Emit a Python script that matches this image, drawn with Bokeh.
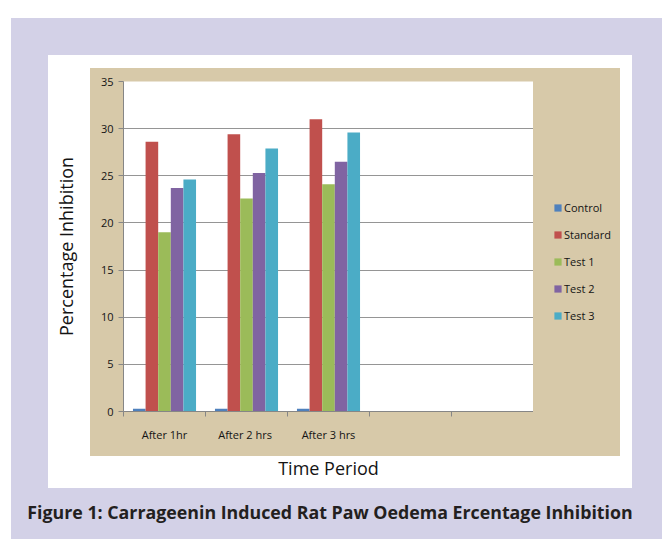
import numpy as np
from bokeh.plotting import figure
from bokeh.layouts import column, row
from bokeh.models import (ColumnDataSource, Range1d, FixedTicker, Legend, LegendItem, Div)
from bokeh.transform import dodge
from bokeh.embed import file_html
from bokeh.resources import INLINE

# ---- data ----
categories = ["After 1hr", "After 2  hrs", "After 3 hrs", "", ""]
series_names = ["Control", "Standard", "Test 1", "Test 2", "Test 3"]
control = [0.3, 0.3, 0.3]
standard = [28.6, 29.4, 31.0]
test1 = [19.0, 22.6, 24.1]
test2 = [23.7, 25.3, 26.5]
test3 = [24.6, 27.9, 29.6]
y_ticks = [0, 5, 10, 15, 20, 25, 30, 35]
colors = ["#4F81BD", "#C0504D", "#9BBB59", "#8064A2", "#4BACC6"]
caption = "Figure 1: Carrageenin Induced Rat Paw Oedema Ercentage Inhibition"

n_cat = len(categories)
keys = ["control", "standard", "test1", "test2", "test3"]
src = ColumnDataSource(dict(x=np.arange(len(control)) + 0.5,
                            control=control, standard=standard,
                            test1=test1, test2=test2, test3=test3))
bw = 1 / 6.5

LAV = "#d3d1e7"
TAN = "#d7c9a9"
AX = "#868686"
TXT = "#141414"
FONT = "Open Sans"
W, H, HC = 662, 490, 49
WP = 533           # width of the chart figure (its plot area ends here)
WL = W - WP        # width of the legend strip

# page decoration (lavender page, white card, tan chart area) as CSS backgrounds
bg = (f"linear-gradient({TAN},{TAN}) 90px 68px / 530px 388px no-repeat, "
      f"linear-gradient(#ffffff,#ffffff) 48px 55px / 584px 433px no-repeat, "
      f"linear-gradient({LAV},{LAV}) 11px 18px / 651px {H + HC - 18}px no-repeat, #ffffff")

p = figure(width=WP, height=H, x_range=Range1d(0, n_cat), y_range=Range1d(0, y_ticks[-1]),
           output_backend="svg", toolbar_location=None,
           min_border_left=123, min_border_right=0, min_border_top=81, min_border_bottom=H - 411,
           border_fill_alpha=0, background_fill_color="white", outline_line_color=None)

for i, (k, col) in enumerate(zip(keys, colors)):
    p.vbar(x=dodge("x", (i - 2) * bw, range=p.x_range), top=k, width=bw, source=src,
           fill_color=col, line_color=None)

# legend strip: its own plot holding hidden copies of the series, used only for the swatches
pl = figure(width=WL, height=H, output_backend="svg", toolbar_location=None,
            x_axis_type=None, y_axis_type=None,
            min_border_left=0, min_border_right=0, min_border_top=0, min_border_bottom=0,
            border_fill_alpha=0, background_fill_alpha=0, outline_line_color=None)
pl.grid.visible = False
items = []
for k, name, col in zip(keys, series_names, colors):
    r = pl.vbar(x="x", top=k, width=bw, source=src, fill_color=col, line_color=None, visible=False)
    items.append(LegendItem(label=name, renderers=[r]))
legend = Legend(items=items, location=(20, 88), padding=0, margin=0,
                border_line_color=None, background_fill_alpha=0,
                inactive_fill_alpha=0,
                glyph_width=9, glyph_height=9, label_standoff=2, label_height=15, spacing=12,
                label_text_font=FONT, label_text_font_size="11px", label_text_color=TXT)
pl.add_layout(legend)

# grid
p.xgrid.grid_line_color = None
p.ygrid.grid_line_color = "#959595"
p.ygrid.ticker = FixedTicker(ticks=y_ticks)

# y axis
p.yaxis.ticker = FixedTicker(ticks=y_ticks)
p.yaxis.axis_line_color = AX
p.yaxis.major_tick_line_color = AX
p.yaxis.major_tick_out = 5
p.yaxis.major_tick_in = 0
p.yaxis.minor_tick_line_color = None
p.yaxis.major_label_standoff = 5
p.yaxis.major_label_text_font = FONT
p.yaxis.major_label_text_font_size = "11px"
p.yaxis.major_label_text_color = TXT
p.yaxis.axis_label = "Percentage Inhibition"
p.yaxis.axis_label_standoff = 20
p.yaxis.axis_label_text_font = FONT
p.yaxis.axis_label_text_font_size = "18px"
p.yaxis.axis_label_text_font_style = "normal"
p.yaxis.axis_label_text_color = TXT

# x axis
centers = [float(i) + 0.5 for i in range(n_cat)]
p.xaxis.ticker = FixedTicker(ticks=centers, minor_ticks=[float(i) for i in range(n_cat + 1)])
p.xaxis.major_label_overrides = {c: lab for c, lab in zip(centers, categories)}
p.xaxis.axis_line_color = AX
p.xaxis.major_tick_line_color = None
p.xaxis.major_tick_out = 0
p.xaxis.major_tick_in = 0
p.xaxis.minor_tick_line_color = AX
p.xaxis.minor_tick_out = 5
p.xaxis.minor_tick_in = 0
p.xaxis.major_label_standoff = 10
p.xaxis.major_label_text_font = FONT
p.xaxis.major_label_text_font_size = "11px"
p.xaxis.major_label_text_color = TXT
p.xaxis.axis_label = "Time Period"
p.xaxis.axis_label_standoff = 11
p.xaxis.axis_label_text_font = FONT
p.xaxis.axis_label_text_font_size = "18px"
p.xaxis.axis_label_text_font_style = "normal"
p.xaxis.axis_label_text_color = TXT

cap = Div(text=caption, width=W - 12, height=HC,
          styles={"font-family": "'Open Sans', sans-serif", "font-weight": "bold",
                  "font-size": "17.8px", "line-height": "34px", "text-align": "center",
                  "color": "#231f20"})

layout = column(row(p, pl, spacing=0), cap, spacing=0, styles={"background": bg})
open("out.html", "w").write(file_html(layout, INLINE))
